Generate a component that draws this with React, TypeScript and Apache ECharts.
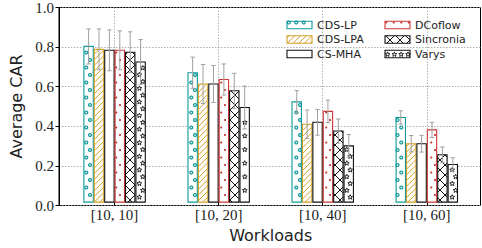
import React, { useEffect, useRef } from 'react';
import * as echarts from 'echarts';

// ---------- data ----------
const categories = ['[10, 10]', '[10, 20]', '[10, 40]', '[10, 60]'];
const methods = ['CDS-LP', 'CDS-LPA', 'CS-MHA', 'DCoflow', 'Sincronia', 'Varys'];
const yTickValues = [0, 0.2, 0.4, 0.6, 0.8, 1.0];

const cdsLpMean = [0.8, 0.665, 0.515, 0.435];
const cdsLpErr = [0.09, 0.08, 0.058, 0.034];
const cdsLpaMean = [0.785, 0.607, 0.4, 0.3];
const cdsLpaErr = [0.105, 0.1, 0.073, 0.042];
const csMhaMean = [0.78, 0.607, 0.41, 0.3];
const csMhaErr = [0.105, 0.095, 0.066, 0.043];
const dcoflowMean = [0.78, 0.63, 0.466, 0.371];
const dcoflowErr = [0.1, 0.08, 0.058, 0.039];
const sincroniaMean = [0.77, 0.572, 0.365, 0.243];
const sincroniaErr = [0.105, 0.09, 0.062, 0.04];
const varysMean = [0.72, 0.486, 0.289, 0.193];
const varysErr = [0.115, 0.11, 0.058, 0.035];

const means = [cdsLpMean, cdsLpaMean, csMhaMean, dcoflowMean, sincroniaMean, varysMean];
const errs = [cdsLpErr, cdsLpaErr, csMhaErr, dcoflowErr, sincroniaErr, varysErr];

// ---------- styles ----------
type Hatch = 'rings' | 'slash' | 'none' | 'dots' | 'cross' | 'stars';
const styles: { edge: string; hatch: Hatch }[] = [
  { edge: '#109a9a', hatch: 'rings' },
  { edge: '#d4a12a', hatch: 'slash' },
  { edge: '#111111', hatch: 'none' },
  { edge: '#cc3535', hatch: 'dots' },
  { edge: '#111111', hatch: 'cross' },
  { edge: '#111111', hatch: 'stars' },
];

const SLASH_P = 5.7;
const CROSS_P = 10;
const DOT_P = 7.5;
const STAR_P = 6.8;

function starPoints(cx: number, cy: number, R: number, r: number) {
  const pts: number[][] = [];
  for (let k = 0; k < 10; k++) {
    const ang = -Math.PI / 2 + (k * Math.PI) / 5;
    const rad = k % 2 === 0 ? R : r;
    pts.push([cx + rad * Math.cos(ang), cy + rad * Math.sin(ang)]);
  }
  return pts;
}

function hatchChildren(kind: Hatch, x0: number, y0: number, w: number, h: number, color: string) {
  const out: any[] = [];
  const x1 = x0 + w;
  const y1 = y0 + h;
  if (w <= 0 || h <= 0) return out;
  const lineStyle = { stroke: color, lineWidth: 1, fill: null };
  if (kind === 'slash' || kind === 'cross') {
    const p = kind === 'slash' ? SLASH_P : CROSS_P;
    for (let c = Math.ceil((x0 + y0) / p) * p; c <= x1 + y1; c += p) {
      const xs = Math.max(x0, c - y1);
      const xe = Math.min(x1, c - y0);
      if (xe - xs > 0.2) out.push({ type: 'line', silent: true, shape: { x1: xs, y1: c - xs, x2: xe, y2: c - xe }, style: lineStyle });
    }
    if (kind === 'cross') {
      for (let c = Math.ceil((x0 - y1) / p) * p; c <= x1 - y0; c += p) {
        const xs = Math.max(x0, c + y0);
        const xe = Math.min(x1, c + y1);
        if (xe - xs > 0.2) out.push({ type: 'line', silent: true, shape: { x1: xs, y1: xs - c, x2: xe, y2: xe - c }, style: lineStyle });
      }
    }
  } else if (kind === 'rings' || kind === 'dots' || kind === 'stars') {
    const p = kind === 'stars' ? STAR_P : DOT_P;
    const m = kind === 'stars' ? 1.8 : kind === 'rings' ? 1.2 : 0.8;
    for (let j = Math.ceil(y0 / p); j * p <= y1; j++) {
      const y = j * p;
      if (y < y0 + m || y > y1 - m) continue;
      const off = (j % 2) * (p / 2);
      for (let i = Math.ceil((x0 - off) / p); i * p + off <= x1; i++) {
        const x = i * p + off;
        if (x < x0 + m || x > x1 - m) continue;
        if (kind === 'rings') {
          out.push({ type: 'circle', silent: true, shape: { cx: x, cy: y, r: 1.45 }, style: { stroke: color, lineWidth: 1.3, fill: null } });
        } else if (kind === 'dots') {
          out.push({ type: 'circle', silent: true, shape: { cx: x, cy: y, r: 1.05 }, style: { fill: color } });
        } else {
          out.push({ type: 'polygon', silent: true, shape: { points: starPoints(x, y, 2.5, 1.1) }, style: { stroke: color, lineWidth: 0.9, fill: null } });
        }
      }
    }
  }
  return out;
}

// ---------- layout ----------
const W = 482;
const H = 248;
const FRAME_L = 59;
const FRAME_R = 480.5;
const TOP = 7.5;
const BOTTOM = 42.5;
const CAT_L = 114.6;
const CAT_R = 426.8;

export default function App() {
  const ref = useRef<HTMLDivElement>(null);

  useEffect(() => {
    document.body.style.margin = '0';
    if (!ref.current) return;
    const chart = echarts.init(ref.current, undefined, { renderer: 'svg' });

    const barSeries = methods.map((name, si) => ({
      type: 'custom',
      name,
      xAxisIndex: 1,
      yAxisIndex: 1,
      z: 3,
      encode: { x: 0, y: 1 },
      data: categories.map((_, ci) => [ci, means[si][ci], errs[si][ci]]),
      renderItem: (params: any, api: any) => {
        const ci = api.value(0);
        const v = api.value(1);
        const e = api.value(2);
        const [cx, top] = api.coord([ci, v]);
        const base = api.coord([ci, 0])[1];
        const band = api.coord([1, 0])[0] - api.coord([0, 0])[0];
        const slot = band * 0.1;
        const bw = slot * 0.9;
        const bx = cx + (si - 2.5) * slot - bw / 2;
        const st = styles[si];
        const h = base - top;
        const ecx = bx + bw / 2;
        const eTop = api.coord([ci, v + e])[1];
        const eBot = api.coord([ci, v - e])[1];
        const cap = 2.2;
        const errColor = '#a0a0a0';
        return {
          type: 'group',
          children: [
            { type: 'rect', shape: { x: bx, y: top, width: bw, height: h }, style: { fill: '#ffffff' } },
            ...hatchChildren(st.hatch, bx, top, bw, h, st.edge),
            { type: 'rect', shape: { x: bx, y: top, width: bw, height: h }, style: { fill: null, stroke: st.edge, lineWidth: 1.1 } },
            { type: 'line', shape: { x1: ecx, y1: eTop, x2: ecx, y2: eBot }, style: { stroke: errColor, lineWidth: 1 } },
            { type: 'line', shape: { x1: ecx - cap, y1: eTop, x2: ecx + cap, y2: eTop }, style: { stroke: errColor, lineWidth: 1 } },
            { type: 'line', shape: { x1: ecx - cap, y1: eBot, x2: ecx + cap, y2: eBot }, style: { stroke: errColor, lineWidth: 1 } },
          ],
        };
      },
    }));

    const legendCols = [
      { swX: 287, txX: 317 },
      { swX: 385, txX: 415 },
    ];
    const legendRowsY = [25, 39.5, 54];
    const swW = 25;
    const swH = 7.5;
    const legendChildren: any[] = [];
    methods.forEach((name, si) => {
      const col = legendCols[Math.floor(si / 3)];
      const y = legendRowsY[si % 3];
      const st = styles[si];
      const sy = y - swH / 2;
      legendChildren.push({ type: 'rect', shape: { x: col.swX, y: sy, width: swW, height: swH }, style: { fill: '#ffffff' } });
      hatchChildren(st.hatch, col.swX, sy, swW, swH, st.edge).forEach((c) => legendChildren.push(c));
      legendChildren.push({ type: 'rect', shape: { x: col.swX, y: sy, width: swW, height: swH }, style: { fill: null, stroke: st.edge, lineWidth: 1.1 } });
      legendChildren.push({
        type: 'text',
        x: col.txX,
        y: y,
        style: { text: name, fontFamily: 'DejaVu Sans', fontSize: 11, fill: '#222', verticalAlign: 'middle' },
      });
    });

    const gridLine = { show: true, lineStyle: { color: '#9a9a9a', type: [1.5, 1.5], width: 0.8 } };

    chart.setOption({
      animation: false,
      grid: [
        { left: FRAME_L, right: W - FRAME_R, top: TOP, bottom: BOTTOM, show: true, borderColor: '#000', borderWidth: 1, backgroundColor: 'transparent', containLabel: false },
        { left: CAT_L, right: W - CAT_R, top: TOP, bottom: BOTTOM, containLabel: false },
      ],
      xAxis: [
        { type: 'value', gridIndex: 0, min: 0, max: 1, show: false },
        {
          type: 'category',
          gridIndex: 1,
          data: categories,
          boundaryGap: false,
          axisLine: { show: false },
          axisTick: { show: true, length: 3.5, lineStyle: { color: '#000' } },
          axisLabel: { fontFamily: 'Liberation Serif', fontSize: 15, color: '#222', margin: 5 },
          splitLine: gridLine,
          name: 'Workloads',
          nameLocation: 'middle',
          nameGap: 20,
          nameTextStyle: { fontFamily: 'DejaVu Sans', fontSize: 16, color: '#222' },
        },
      ],
      yAxis: [
        {
          type: 'value',
          gridIndex: 0,
          min: 0,
          max: 1,
          interval: 0.2,
          axisLine: { show: true, lineStyle: { color: '#000' } },
          axisTick: { show: true, length: 3.5, lineStyle: { color: '#000' } },
          axisLabel: {
            fontFamily: 'Liberation Serif',
            fontSize: 15,
            color: '#222',
            margin: 5,
            formatter: (v: number) => {
              const t = yTickValues.find((x) => Math.abs(x - v) < 1e-6);
              return (t !== undefined ? t : v).toFixed(1);
            },
          },
          splitLine: gridLine,
          name: 'Average CAR',
          nameLocation: 'middle',
          nameGap: 30,
          nameTextStyle: { fontFamily: 'DejaVu Sans', fontSize: 16, color: '#222' },
        },
        { type: 'value', gridIndex: 1, min: 0, max: 1, show: false },
      ],
      graphic: [{ type: 'group', silent: true, z: 10, children: legendChildren }],
      series: barSeries,
    });

    return () => chart.dispose();
  }, []);

  return <div ref={ref} style={{ width: W, height: H }} />;
}
